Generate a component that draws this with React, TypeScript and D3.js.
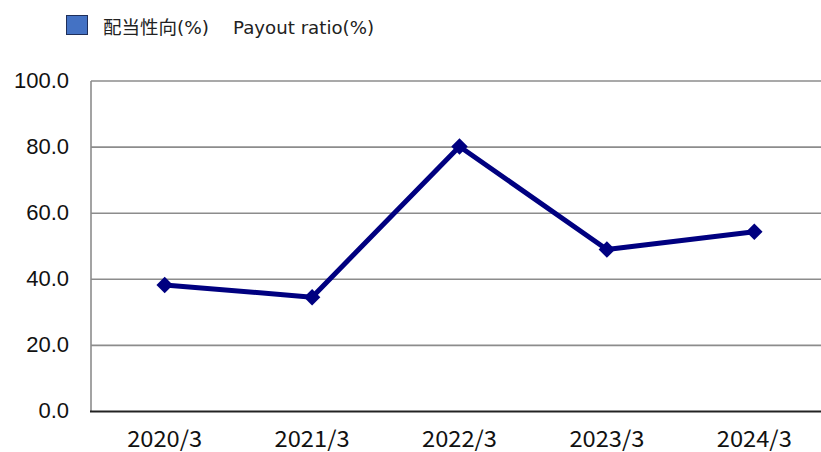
import React from "react";
import * as d3 from "d3";

const categories = ["2020/3", "2021/3", "2022/3", "2023/3", "2024/3"];
const payoutRatio = [38.3, 34.6, 80.2, 49.0, 54.4];
const yTicks = [0, 20, 40, 60, 80, 100];
const legendJa = "配当性向(%)";
const legendEn = "Payout ratio(%)";

const W = 821;
const H = 452;
const plotLeft = 91;
const plotRight = 828;
const plotTop = 81;
const plotBottom = 411.5;

export default function App() {
  const x = d3.scaleBand<string>().domain(categories).range([plotLeft, plotRight]).padding(0);
  const y = d3.scaleLinear().domain([0, 100]).range([plotBottom, plotTop]);
  const cx = (c: string) => (x(c) as number) + x.bandwidth() / 2;
  const line = d3
    .line<number>()
    .x((_, i) => cx(categories[i]))
    .y((d) => y(d));
  const diamond = d3.symbol().type(d3.symbolSquare).size(136)();

  return (
    <svg width={W} height={H} style={{ position: "absolute", left: 0, top: 0, background: "#fff" }}>
      <rect x={0} y={0} width={W} height={H} fill="#fff" />
      {/* legend */}
      <rect x={66.5} y={15.5} width={21} height={19} fill="#4472C4" stroke="#1f2f5a" strokeWidth={1} />
      <text x={103} y={33.5} fontFamily="'DejaVu Sans', 'Noto Sans CJK JP', sans-serif" fontSize={18.5} fill="#222">
        {legendJa}
      </text>
      <text x={233} y={33.5} fontFamily="'DejaVu Sans', 'Noto Sans CJK JP', sans-serif" fontSize={18.2} fill="#222">
        {legendEn}
      </text>
      {/* gridlines */}
      {yTicks
        .filter((t) => t !== 0)
        .map((t) => (
          <line key={t} x1={plotLeft} x2={plotRight} y1={y(t)} y2={y(t)} stroke="#8c8c8c" strokeWidth={1.6} />
        ))}
      {/* y axis */}
      <line x1={plotLeft} x2={plotLeft} y1={plotTop} y2={plotBottom} stroke="#8c8c8c" strokeWidth={1.6} />
      {/* x axis */}
      <line x1={plotLeft - 1} x2={plotRight} y1={plotBottom} y2={plotBottom} stroke="#222" strokeWidth={2.2} />
      {/* y tick labels */}
      {yTicks.map((t) => (
        <text
          key={t}
          x={69}
          y={y(t) + 1}
          textAnchor="end"
          dominantBaseline="middle"
          fontFamily="'Liberation Sans', Arial, sans-serif"
          fontSize={22}
          fill="#111"
        >
          {d3.format(".1f")(t)}
        </text>
      ))}
      {/* x tick labels */}
      {categories.map((c) => (
        <text
          key={c}
          x={cx(c)}
          y={441}
          textAnchor="middle"
          dominantBaseline="middle"
          fontFamily="'Noto Sans CJK JP', sans-serif"
          fontSize={22}
          fill="#111"
          textLength={75}
          lengthAdjust="spacingAndGlyphs"
        >
          {c}
        </text>
      ))}
      {/* line */}
      <path d={line(payoutRatio) || ""} fill="none" stroke="#000080" strokeWidth={5} strokeLinejoin="round" />
      {payoutRatio.map((v, i) => (
        <path
          key={i}
          d={diamond || ""}
          transform={`translate(${cx(categories[i])},${y(v)}) rotate(45)`}
          fill="#000080"
        />
      ))}
    </svg>
  );
}
